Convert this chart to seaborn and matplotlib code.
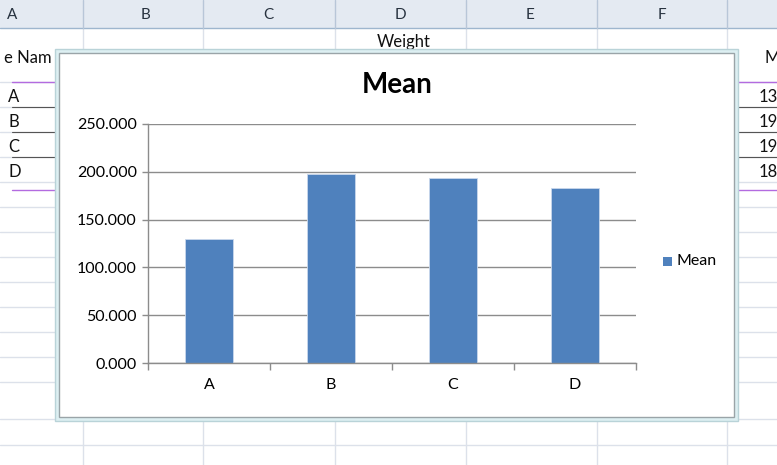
import matplotlib
matplotlib.use("Agg")
import matplotlib.pyplot as plt
import seaborn as sns
import pandas as pd
from matplotlib.patches import Rectangle
from matplotlib.lines import Line2D
from matplotlib.ticker import FormatStrFormatter, FixedLocator

categories = ["A", "B", "C", "D"]
mean_values = [130.0, 197.5, 193.0, 183.5]
y_ticks = [0, 50, 100, 150, 200, 250]
col_letters = ["A", "B", "C", "D", "E", "F"]
right_col_values = ["13", "19", "19", "18"]

df = pd.DataFrame({"cat": categories, "Mean": mean_values})

sns.set_theme(style="white")
plt.rcParams["font.family"] = ["Lato", "DejaVu Sans"]

W, H = 777, 465
fig = plt.figure(figsize=(W / 100, H / 100), dpi=100)
fig.patch.set_facecolor("white")

def fx(x): return x / W
def fy(y): return 1 - y / H

# ---- spreadsheet background ----
grid_c = "#DCE1EA"
fig.add_artist(Rectangle((0, fy(28)), 1, 28 / H, transform=fig.transFigure,
                         facecolor="#E4EAF2", edgecolor="none", zorder=0))
fig.add_artist(Line2D([0, 1], [fy(28), fy(28)], transform=fig.transFigure, color="#9EB6CE", lw=1, zorder=1))
col_seps = [83, 203, 335, 466, 597, 727]
col_centers = [12, 145, 268, 400, 530, 662]
for x in col_seps:
    fig.add_artist(Line2D([fx(x), fx(x)], [fy(0), fy(28)], transform=fig.transFigure, color="#B8C6D8", lw=1, zorder=1))
    fig.add_artist(Line2D([fx(x), fx(x)], [fy(28), 0], transform=fig.transFigure, color=grid_c, lw=1, zorder=0))
for c, x in zip(col_letters, col_centers):
    fig.text(fx(x), fy(15), c, ha="center", va="center", fontsize=11, color="#27323F", zorder=2)
for y in [82, 107, 132, 157, 182, 207, 232, 257, 282, 307, 332, 357, 382, 419, 445]:
    fig.add_artist(Line2D([0, 1], [fy(y), fy(y)], transform=fig.transFigure, color=grid_c, lw=1, zorder=0))
fig.add_artist(Line2D([fx(12), 1], [fy(82), fy(82)], transform=fig.transFigure, color="#B36BE0", lw=1, zorder=1))
fig.add_artist(Line2D([fx(12), 1], [fy(190), fy(190)], transform=fig.transFigure, color="#B36BE0", lw=1, zorder=1))
for y in [107, 132, 157]:
    fig.add_artist(Line2D([fx(12), 1], [fy(y), fy(y)], transform=fig.transFigure, color="#555555", lw=0.8, zorder=1))
fig.text(fx(404), fy(42), "Weight", ha="center", va="center", fontsize=12, color="#111111", zorder=1)
fig.text(fx(4), fy(58), "e Nam", ha="left", va="center", fontsize=12, color="#111111", zorder=1)
fig.text(fx(764), fy(58), "M", ha="left", va="center", fontsize=12, color="#111111", zorder=1)
for i, (c, v) in enumerate(zip(categories, right_col_values)):
    yy = 97 + 25 * i
    fig.text(fx(8), fy(yy), c, ha="left", va="center", fontsize=12, color="#111111", zorder=1)
    fig.text(fx(759), fy(yy), v, ha="left", va="center", fontsize=12, color="#111111", zorder=1)

# ---- chart frame ----
fig.add_artist(Rectangle((fx(55), fy(421)), (738 - 55) / W, (421 - 49) / H, transform=fig.transFigure,
                         facecolor="#DDEFF2", edgecolor="#B9D3D8", lw=1, zorder=3))
fig.add_artist(Rectangle((fx(59), fy(417)), (734 - 59) / W, (417 - 53) / H, transform=fig.transFigure,
                         facecolor="white", edgecolor="#9AA4A8", lw=1, zorder=3))

fig.text(fx(397), fy(85), "Mean", ha="center", va="center", fontsize=20, fontweight="bold",
         color="black", zorder=5)

# ---- axes ----
ax = fig.add_axes([fx(148), fy(363), (636 - 148) / W, (363 - 124) / H], zorder=4)
ax.set_facecolor("white")
sns.barplot(data=df, x="cat", y="Mean", color="#4F81BD", width=0.4, ax=ax,
            edgecolor="#C9D8EC", linewidth=0.6, saturation=1)
ax.set_xlim(-0.5, len(categories) - 0.5)
ax.set_ylim(0, 250)
ax.set_yticks(y_ticks)
ax.yaxis.set_major_formatter(FormatStrFormatter("%.3f"))
ax.yaxis.grid(True, color="#8C8C8C", lw=1)
ax.set_axisbelow(True)
ax.set_xlabel("")
ax.set_ylabel("")
for s in ["top", "right"]:
    ax.spines[s].set_visible(False)
for s in ["left", "bottom"]:
    ax.spines[s].set_visible(True)
    ax.spines[s].set_color("#8C8C8C")
    ax.spines[s].set_linewidth(1)
ax.tick_params(axis="y", which="major", length=4, width=1, color="#8C8C8C", left=True,
               labelsize=11.5, pad=4, labelcolor="black")
ax.tick_params(axis="x", which="major", length=0, labelsize=11.5, pad=11, labelcolor="black")
ax.xaxis.set_minor_locator(FixedLocator([i + 0.5 for i in range(-1, len(categories))]))
ax.tick_params(axis="x", which="minor", length=5, width=1, color="#8C8C8C", bottom=True)

# legend
fig.add_artist(Rectangle((fx(663), fy(266)), 9 / W, 9 / H, transform=fig.transFigure,
                         facecolor="#4F81BD", edgecolor="none", zorder=5))
fig.text(fx(677), fy(261), "Mean", ha="left", va="center", fontsize=11.5, color="black", zorder=5)

fig.savefig("out.png", dpi=100)
